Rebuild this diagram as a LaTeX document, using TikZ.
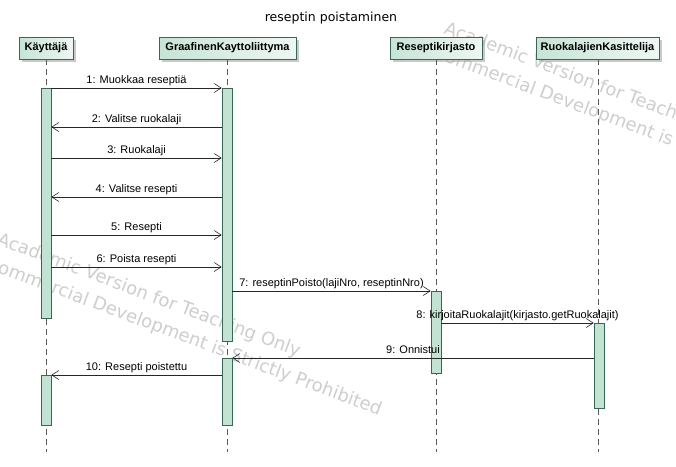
\documentclass[tikz,border=0pt]{standalone}
\usepackage{fontspec}
\setmainfont{Liberation Sans}
\newfontfamily\titlefont{DejaVu Sans}
\usetikzlibrary{arrows.meta,shadows}
\definecolor{hdrA}{HTML}{C6E4D5}
\definecolor{hdrB}{HTML}{EEF7F2}
\definecolor{edge}{HTML}{3A6656}
\definecolor{barfill}{HTML}{C2E3D2}
\definecolor{wm}{HTML}{CECECE}
\begin{document}
\begin{tikzpicture}[x=1pt,y=-1pt,
  hdr/.style={draw=edge,line width=0.6pt,left color=hdrA,right color=hdrB,
    minimum height=22pt,inner sep=0pt,font=\fontsize{11}{13}\selectfont\bfseries,
    drop shadow={shadow xshift=3pt,shadow yshift=-3pt,fill=black!35,opacity=0.6}},
  bar/.style={draw=edge,fill=barfill,line width=0.6pt,minimum width=10pt,inner sep=0pt},
  life/.style={draw=black!65,line width=0.6pt,dash pattern=on 6pt off 4pt},
  msg/.style={draw=black!85,line width=0.6pt,-{Straight Barb[length=7pt,width=9pt,line width=0.6pt]}},
  lbl/.style={font=\fontsize{11}{13}\selectfont,anchor=base,inner sep=0pt},
  wmtext/.style={font=\titlefont\fontsize{18}{20}\selectfont,text=wm,anchor=base west,rotate=-20.5,inner sep=0pt}]
\useasboundingbox[fill=white] (0,0) rectangle (676,466);
% watermark
\node[wmtext] (w1) at (-4,244) {Academic Version for Teaching Only};
\node[wmtext] (w2) at (-15,268) {Commercial Development is Strictly Prohibited};
\node[wmtext] (w3) at (443,33) {Academic Version for Teaching Only};
\node[wmtext] (w4) at (432,57) {Commercial Development is Strictly Prohibited};
% title
\node[font=\titlefont\fontsize{12.5}{14}\selectfont,anchor=base] (title) at (331,21) {reseptin poistaminen};
% lifelines
\coordinate (kend) at (46,452);
\coordinate (gend) at (227,452);
\coordinate (rend) at (436,452);
\coordinate (uend) at (598,452);
\node[hdr,minimum width=54pt] (K) at (46,48) {Käyttäjä};
\node[hdr,minimum width=137pt] (G) at (227.5,48) {GraafinenKayttoliittyma};
\node[hdr,minimum width=92pt] (R) at (436,48) {Reseptikirjasto};
\node[hdr,minimum width=123pt] (U) at (597.5,48) {RuokalajienKasittelija};
\draw[life] (K.south -| kend) -- (kend);
\draw[life] (G.south -| gend) -- (gend);
\draw[life] (R.south -| rend) -- (rend);
\draw[life] (U.south -| uend) -- (uend);
% activation bars
\node[bar,minimum height=230pt,anchor=north] (kb1) at (46,88) {};
\node[bar,minimum height=50pt,anchor=north] (kb2) at (46,375) {};
\node[bar,minimum height=253pt,anchor=north] (gb1) at (227,88) {};
\node[bar,minimum height=67pt,anchor=north] (gb2) at (227,358) {};
\node[bar,minimum height=82pt,anchor=north] (rb) at (436,291) {};
\node[bar,minimum height=85pt,anchor=north] (ub) at (599,323) {};
% messages
\draw[msg] (kb1.east |- 0,88) -- (gb1.west |- 0,88);
\node[lbl] (l1) at (136.5,83) {1: Muokkaa reseptiä};
\draw[msg] (gb1.west |- 0,127) -- (kb1.east |- 0,127);
\node[lbl] (l2) at (136.5,122) {2: Valitse ruokalaji};
\draw[msg] (kb1.east |- 0,158) -- (gb1.west |- 0,158);
\node[lbl] (l3) at (136.5,153) {3: Ruokalaji};
\draw[msg] (gb1.west |- 0,197) -- (kb1.east |- 0,197);
\node[lbl] (l4) at (136.5,192) {4: Valitse resepti};
\draw[msg] (kb1.east |- 0,235) -- (gb1.west |- 0,235);
\node[lbl] (l5) at (136.5,230) {5: Resepti};
\draw[msg] (kb1.east |- 0,267) -- (gb1.west |- 0,267);
\node[lbl] (l6) at (136.5,262) {6: Poista resepti};
\draw[msg] (gb1.east |- 0,291) -- (rb.west |- 0,291);
\node[lbl] (l7) at (331.5,286) {7: reseptinPoisto(lajiNro, reseptinNro)};
\draw[msg] (rb.east |- 0,323) -- (ub.west |- 0,323);
\node[lbl] (l8) at (517.5,318) {8: kirjoitaRuokalajit(kirjasto.getRuokalajit)};
\draw[msg] (ub.west |- 0,358) -- (gb2.east |- 0,358);
\node[lbl] (l9) at (413,353) {9: Onnistui};
\draw[msg] (gb2.west |- 0,375) -- (kb2.east |- 0,375);
\node[lbl] (l10) at (136.5,370) {10: Resepti poistettu};
\end{tikzpicture}
\end{document}
